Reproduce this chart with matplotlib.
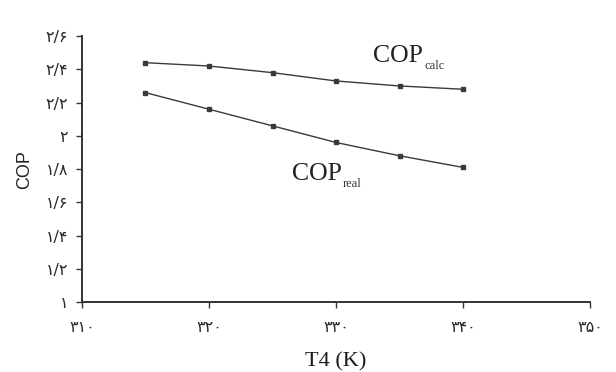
import matplotlib
matplotlib.use("Agg")
import matplotlib.pyplot as plt

# T4 (K) and COP values
t4 = [315, 320, 325, 330, 335, 340]
cop_calc = [2.44, 2.42, 2.38, 2.33, 2.30, 2.28]
cop_real = [2.26, 2.16, 2.06, 1.96, 1.88, 1.81]

x_ticks = [310, 320, 330, 340, 350]
y_ticks = [1.0, 1.2, 1.4, 1.6, 1.8, 2.0, 2.2, 2.4, 2.6]

FA_DIGITS = str.maketrans("0123456789.", "۰۱۲۳۴۵۶۷۸۹/")


def fa(v):
    return f"{v:g}".translate(FA_DIGITS)


plt.rcParams["font.family"] = ["Liberation Serif", "DejaVu Sans"]

fig = plt.figure(figsize=(6.16, 3.72), dpi=100)
ax = fig.add_axes([0.133, 0.188, 0.825, 0.715])

line_kw = dict(color="#3a3a3a", lw=1.0, marker="s", ms=2.5)
ax.plot(t4, cop_calc, **line_kw)
ax.plot(t4, cop_real, **line_kw)

ax.set_xlim(310, 350)
ax.set_ylim(1.0, 2.6)
tick_font = dict(fontsize=11.5, family=["DejaVu Sans"], color="#2a2a2a")
ax.set_xticks(x_ticks, [fa(v) for v in x_ticks], **tick_font)
ax.set_yticks(y_ticks, [fa(v) for v in y_ticks], **tick_font)
ax.tick_params(direction="out", length=4, width=1, color="#333333")
ax.tick_params(axis="x", pad=9)
ax.tick_params(axis="y", pad=6)

for side in ("top", "right"):
    ax.spines[side].set_visible(False)
for side in ("left", "bottom"):
    ax.spines[side].set_linewidth(1.4)
    ax.spines[side].set_color("#333333")

ax.set_xlabel("T4 (K)", fontsize=16, color="#1a1a1a", labelpad=12)
ax.set_ylabel("COP", fontsize=13, family=["Liberation Sans"], color="#222222", labelpad=9)

# curve labels: big "COP" with a small subscript next to it
for x0, y0, sub in [(332.9, 2.445, "calc"), (326.5, 1.735, "real")]:
    ax.text(x0, y0, "COP", fontsize=18.5, color="#222222", va="baseline")
    ax.annotate(sub, (x0, y0), xytext=(37, -5), textcoords="offset points",
                fontsize=9, color="#333333", va="baseline")

fig.savefig("out.png", dpi=100)
